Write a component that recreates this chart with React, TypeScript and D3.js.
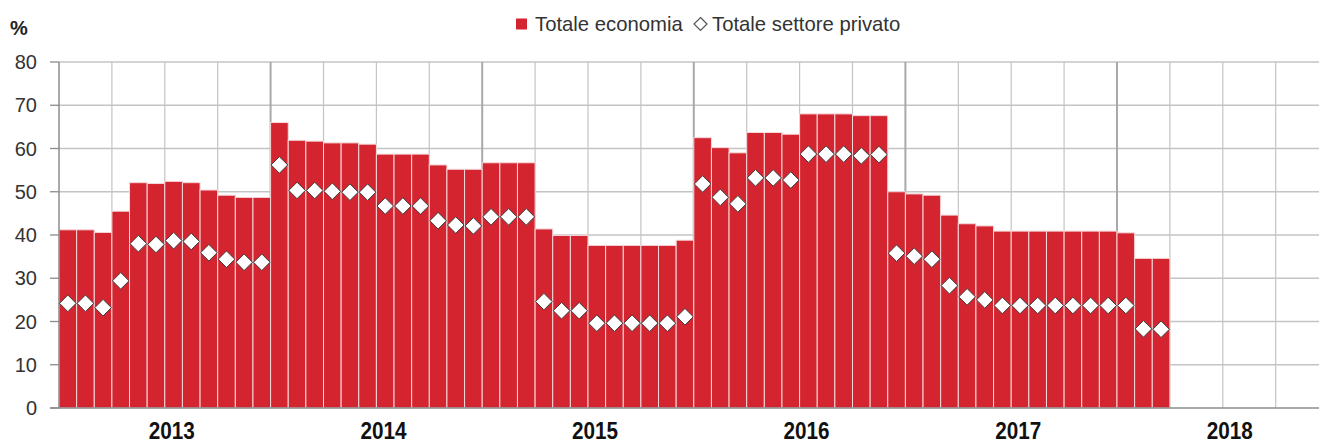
import * as d3 from 'd3';

const YEARS = ['2013', '2014', '2015', '2016', '2017', '2018'];

// monthly values, Jan 2013 - Mar 2018
const totaleEconomia = [
  41.2, 41.2, 40.6, 45.5, 52.1, 51.9, 52.4, 52.1, 50.4, 49.2, 48.7, 48.7,
  66.0, 61.9, 61.7, 61.3, 61.3, 61.0, 58.7, 58.7, 58.7, 56.2, 55.2, 55.2,
  56.7, 56.7, 56.7, 41.4, 39.9, 39.9, 37.6, 37.6, 37.6, 37.6, 37.6, 38.8,
  62.5, 60.2, 59.0, 63.7, 63.7, 63.3, 68.0, 68.0, 68.0, 67.6, 67.6, 50.0,
  49.5, 49.2, 44.6, 42.6, 42.1, 40.9, 40.9, 40.9, 40.9, 40.9, 40.9, 40.9,
  40.5, 34.6, 34.6,
];

const totaleSettorePrivato = [
  24.2, 24.2, 23.2, 29.4, 38.0, 37.8, 38.7, 38.5, 35.9, 34.4, 33.7, 33.7,
  56.2, 50.3, 50.3, 50.1, 49.9, 49.9, 46.7, 46.7, 46.7, 43.3, 42.3, 42.1,
  44.2, 44.2, 44.2, 24.6, 22.5, 22.5, 19.6, 19.6, 19.6, 19.6, 19.6, 21.1,
  51.8, 48.7, 47.2, 53.2, 53.2, 52.7, 58.7, 58.7, 58.7, 58.3, 58.6, 35.8,
  35.1, 34.4, 28.3, 25.7, 25.0, 23.7, 23.7, 23.7, 23.7, 23.7, 23.7, 23.7,
  23.7, 18.3, 18.2,
];

const Y_TICKS = [0, 10, 20, 30, 40, 50, 60, 70, 80];

const RED = '#d3242f';
const FONT = '"Liberation Sans", Arial, sans-serif';

export default function App() {
  const width = 1319;
  const height = 443;
  const left = 59;
  const right = 1328.6;
  const top = 62;
  const bottom = 408;

  const months = d3.range(YEARS.length * 12);
  const x = d3.scaleBand<number>().domain(months).range([left, right]).padding(0);
  const y = d3.scaleLinear().domain([0, 80]).range([bottom, top]);
  const bw = x.bandwidth();

  const diamond = (r: number) => `M0,${-r}L${r},0L0,${r}L${-r},0Z`;

  return (
    <svg
      width={width}
      height={height}
      style={{ position: 'fixed', left: 0, top: 0, background: '#fff' }}
      fontFamily={FONT}
    >
      {/* horizontal grid */}
      {Y_TICKS.filter((t) => t > 0).map((t) => (
        <line key={`h${t}`} x1={left} x2={width} y1={y(t)} y2={y(t)} stroke="#c4c4c4" strokeWidth={1.3} />
      ))}

      {/* vertical grid: quarters, thicker at years */}
      {months
        .filter((m) => m % 3 === 0 && m > 0)
        .map((m) => (
          <line
            key={`v${m}`}
            x1={x(m)}
            x2={x(m)}
            y1={top}
            y2={bottom}
            stroke={m % 12 === 0 ? '#a9a9a9' : '#c4c4c4'}
            strokeWidth={m % 12 === 0 ? 2 : 1.2}
          />
        ))}

      {/* bars */}
      {totaleEconomia.map((v, i) => (
        <rect
          key={`b${i}`}
          x={x(i)}
          y={y(v)}
          width={bw}
          height={bottom - y(v)}
          fill={RED}
          stroke="#f6d9db"
          strokeWidth={1}
        />
      ))}

      {/* axes */}
      <line x1={left} x2={left} y1={top} y2={bottom} stroke="#8c8c8c" strokeWidth={1.5} />
      <line x1={50} x2={width} y1={bottom} y2={bottom} stroke="#8c8c8c" strokeWidth={1.5} />
      {Y_TICKS.map((t) => (
        <g key={`yt${t}`}>
          <line x1={50} x2={left} y1={y(t)} y2={y(t)} stroke="#8c8c8c" strokeWidth={1.3} />
          <text x={37} y={y(t) + 7} textAnchor="end" fontSize={20} fill="#333">
            {t}
          </text>
        </g>
      ))}
      <text x={10} y={35} fontSize={20} fontWeight="bold" fill="#222">
        %
      </text>

      {YEARS.map((yr, k) => {
        const cx = (x(k * 12) as number) + bw * 6 + 7;
        return (
          <text
            key={yr}
            transform={`translate(${cx},439) scale(0.9,1)`}
            textAnchor="middle"
            fontSize={23}
            fontWeight="bold"
            fill="#111"
          >
            {yr}
          </text>
        );
      })}

      {/* diamonds */}
      {totaleSettorePrivato.map((v, i) => (
        <path
          key={`d${i}`}
          d={diamond(8.3)}
          transform={`translate(${(x(i) as number) + bw / 2},${y(v)})`}
          fill="#fff"
          stroke="#3d3d3d"
          strokeWidth={1}
        />
      ))}

      {/* legend */}
      <rect x={516} y={18.5} width={11} height={11} fill={RED} />
      <text x={535} y={31} fontSize={20.3} fill="#333">
        Totale economia
      </text>
      <path d={diamond(6.5)} transform="translate(700.5,24)" fill="#fff" stroke="#555" strokeWidth={1.2} />
      <text x={712} y={31} fontSize={20.3} fill="#333">
        Totale settore privato
      </text>
    </svg>
  );
}
